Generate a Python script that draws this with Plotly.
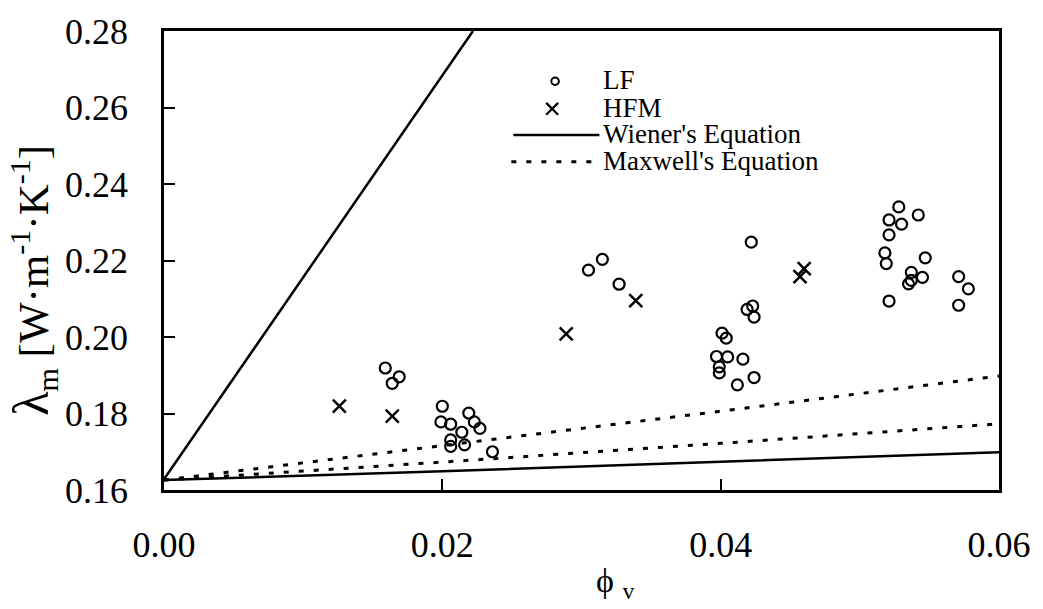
import plotly.graph_objects as go

# ---- data ----
lf_phi = [0.0159, 0.0169, 0.0164,
          0.0200, 0.0199, 0.0206, 0.0219, 0.0223, 0.0227, 0.0214, 0.0206, 0.0206, 0.0216, 0.0236,
          0.0305, 0.0315, 0.0327,
          0.0422, 0.0419, 0.0423, 0.0424, 0.0401, 0.0404, 0.0397, 0.0405, 0.0416, 0.0399, 0.0399, 0.0412, 0.0424,
          0.0528, 0.0521, 0.0530, 0.0542, 0.0521, 0.0518, 0.0519, 0.0547, 0.0537, 0.0545, 0.0537, 0.0535, 0.0521,
          0.0571, 0.0578, 0.0571]
lf_lambda = [0.1919, 0.1896, 0.1879,
             0.1819, 0.1778, 0.1772, 0.1801, 0.1778, 0.1761, 0.1751, 0.1731, 0.1714, 0.1718, 0.1700,
             0.2175, 0.2203, 0.2138,
             0.2248, 0.2072, 0.2081, 0.2052, 0.2010, 0.1997, 0.1949, 0.1948, 0.1942, 0.1922, 0.1906, 0.1875, 0.1894,
             0.2340, 0.2306, 0.2295, 0.2319, 0.2267, 0.2220, 0.2192, 0.2207, 0.2169, 0.2156, 0.2148, 0.2139, 0.2094,
             0.2158, 0.2126, 0.2083]

hfm_phi = [0.0126, 0.0164, 0.0289, 0.0339, 0.0460, 0.0457]
hfm_lambda = [0.1819, 0.1793, 0.2008, 0.2095, 0.2179, 0.2158]

wiener_upper_phi = [0.0, 0.0222]
wiener_upper_lambda = [0.1628, 0.2800]
wiener_lower_phi = [0.0, 0.02, 0.04, 0.06]
wiener_lower_lambda = [0.1626, 0.1649, 0.1674, 0.1699]

maxwell_upper_phi = [0.0, 0.02, 0.04, 0.06]
maxwell_upper_lambda = [0.1626, 0.1716, 0.1806, 0.1898]
maxwell_lower_phi = [0.0, 0.02, 0.04, 0.06]
maxwell_lower_lambda = [0.1626, 0.1673, 0.1722, 0.1773]

x_ticks = [0.00, 0.02, 0.04, 0.06]
x_tick_labels = ["0.00", "0.02", "0.04", "0.06"]
y_ticks = [0.16, 0.18, 0.20, 0.22, 0.24, 0.26, 0.28]
y_tick_labels = ["0.16", "0.18", "0.20", "0.22", "0.24", "0.26", "0.28"]

legend_labels = ["LF", "HFM", "Wiener's Equation", "Maxwell's Equation"]

FONT = "Liberation Serif, Times New Roman, serif"
DOT = "5px,10px"

fig = go.Figure()

for xs, ys in [(wiener_upper_phi, wiener_upper_lambda), (wiener_lower_phi, wiener_lower_lambda)]:
    fig.add_trace(go.Scatter(x=xs, y=ys, mode="lines",
                             line=dict(color="black", width=2.5), showlegend=False))
for xs, ys in [(maxwell_upper_phi, maxwell_upper_lambda), (maxwell_lower_phi, maxwell_lower_lambda)]:
    fig.add_trace(go.Scatter(x=xs, y=ys, mode="lines",
                             line=dict(color="black", width=3, dash=DOT), showlegend=False))

fig.add_trace(go.Scatter(x=lf_phi, y=lf_lambda, mode="markers", showlegend=False,
                         marker=dict(symbol="circle-open", size=11, color="black",
                                     line=dict(color="black", width=2.2))))
fig.add_trace(go.Scatter(x=hfm_phi, y=hfm_lambda, mode="markers", showlegend=False,
                         marker=dict(symbol="x-thin-open", size=13, color="black",
                                     line=dict(color="black", width=2.5))))

# plot area in pixels
L, R, T, B = 164, 1003, 24, 490
W, H = 1043, 609


def px(xp):
    return (xp - L) / (R - L)


def py(yp):
    return (B - yp) / (B - T)


# custom legend
shapes = []
rx, ry = 3.8 / (R - L), 3.8 / (B - T)
shapes.append(dict(type="circle", xref="paper", yref="paper",
                   x0=px(557) - rx, x1=px(557) + rx, y0=py(75) - ry, y1=py(75) + ry,
                   line=dict(color="black", width=2)))
cx, cy, a = 554, 103, 6
shapes.append(dict(type="line", xref="paper", yref="paper",
                   x0=px(cx - a), y0=py(cy - a), x1=px(cx + a), y1=py(cy + a),
                   line=dict(color="black", width=2.2)))
shapes.append(dict(type="line", xref="paper", yref="paper",
                   x0=px(cx - a), y0=py(cy + a), x1=px(cx + a), y1=py(cy - a),
                   line=dict(color="black", width=2.2)))
shapes.append(dict(type="line", xref="paper", yref="paper",
                   x0=px(515), y0=py(129.5), x1=px(601.5), y1=py(129.5),
                   line=dict(color="black", width=2.5)))
shapes.append(dict(type="line", xref="paper", yref="paper",
                   x0=px(513), y0=py(156.7), x1=px(601.5), y1=py(156.7),
                   line=dict(color="black", width=3, dash=DOT)))

annotations = []
for lab, ycen in zip(legend_labels, [74, 102, 129, 156]):
    annotations.append(dict(text=lab, xref="paper", yref="paper", x=px(603), y=py(ycen),
                            xanchor="left", yanchor="middle", showarrow=False,
                            font=dict(family=FONT, size=27, color="black")))

annotations.append(dict(text="<span style='font-size:50px'>λ</span><sub>m</sub> [W·m<sup>-1</sup>·K<sup>-1</sup>]",
                        xref="paper", yref="paper", x=px(33), y=py(277),
                        xanchor="center", yanchor="middle", textangle=-90, showarrow=False,
                        font=dict(family=FONT, size=43, color="black")))
annotations.append(dict(text="ϕ\u00a0<sub>v</sub>",
                        xref="paper", yref="paper", x=px(596), y=py(584),
                        xanchor="left", yanchor="middle", showarrow=False,
                        font=dict(family=FONT, size=34, color="black")))

fig.update_layout(
    width=W, height=H,
    margin=dict(l=L, r=W - R, t=T, b=H - B, pad=0),
    paper_bgcolor="white", plot_bgcolor="white",
    showlegend=False,
    shapes=shapes, annotations=annotations,
    font=dict(family=FONT, color="black"),
    xaxis=dict(range=[0, 0.06], tickvals=x_ticks, ticktext=x_tick_labels,
               ticks="inside", ticklen=11, tickwidth=2, tickcolor="black",
               showline=True, linewidth=2.5, linecolor="black", mirror=True,
               showgrid=False, zeroline=False, ticklabelstandoff=21,
               tickfont=dict(family=FONT, size=36, color="black")),
    yaxis=dict(range=[0.16, 0.28], tickvals=y_ticks, ticktext=y_tick_labels,
               ticks="inside", ticklen=11, tickwidth=2, tickcolor="black",
               showline=True, linewidth=2.5, linecolor="black", mirror=True,
               showgrid=False, zeroline=False, ticklabelstandoff=26,
               tickfont=dict(family=FONT, size=36, color="black")),
)

fig.write_html("out.html")
